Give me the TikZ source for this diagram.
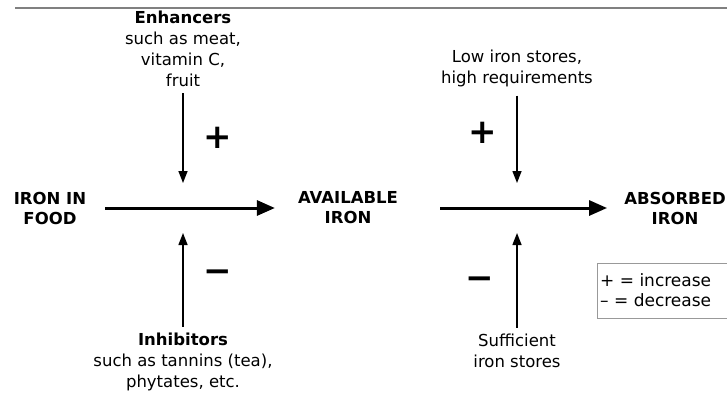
\documentclass[tikz,border=0pt]{standalone}
\usepackage{fontspec}
\setmainfont{DejaVu Sans}
\usetikzlibrary{arrows.meta}
\tikzset{
  stage/.style={align=center,font=\fontsize{16.5}{20}\selectfont\bfseries,inner sep=0pt},
  factor/.style={align=center,font=\fontsize{16.5}{21}\selectfont,inner sep=0pt},
  sign/.style={font=\fontsize{34}{34}\selectfont\bfseries,inner sep=0pt},
  mainarrow/.style={line width=3pt,-{Triangle[length=18pt,width=15pt]}},
  sidearrow/.style={line width=1.4pt,-{Triangle[length=12pt,width=9pt]}}
}
\begin{document}
\begin{tikzpicture}[x=1pt,y=-1pt]
	\useasboundingbox (0,0) rectangle (727,397);
	%top rule
	\draw[gray,line width=1.2pt] (15,8) -- (727,8);

	%stages
	\node[stage] (food) at (50,208) {IRON IN\\FOOD};
	\node[stage] (avail) at (348,208) {AVAILABLE\\IRON};
	\node[stage] (absorbed) at (675,208) {ABSORBED\\IRON};

	%main arrows
	\draw[mainarrow,shorten <=19pt,shorten >=23pt] (food.east) -- (avail.west); %food to available
	\draw[mainarrow,shorten <=42pt,shorten >=17pt] (avail.east) -- (absorbed.west); %available to absorbed

	%factors, left step
	\node[factor] (enh) at (183,49) {\textbf{Enhancers}\\such as meat,\\vitamin C,\\fruit};
	\node[factor] (inh) at (183,362) {\textbf{Inhibitors}\\such as tannins (tea),\\phytates, etc.};
	\coordinate (enhtip) at (183,183);
	\coordinate (inhtip) at (183,233);
	\draw[sidearrow] (enh.south) ++(0,6) -- (enhtip); %enhancers arrow
	\draw[sidearrow] (inh.north) ++(0,-6) -- (inhtip); %inhibitors arrow
	\node[sign] (plusA) at (218,138) {+};
	\node[sign] (minusA) at (218,276) {−};

	%factors, right step
	\node[factor] (low) at (517,68) {Low iron stores,\\high requirements};
	\node[factor] (suff) at (517,351) {Sufficient\\iron stores};
	\coordinate (lowtip) at (517,183);
	\coordinate (sufftip) at (517,233);
	\draw[sidearrow] (low.south) ++(0,9) -- (lowtip); %low stores arrow
	\draw[sidearrow] (suff.north) ++(0,-6) -- (sufftip); %sufficient stores arrow
	\node[sign] (plusB) at (483,133) {+};
	\node[sign] (minusB) at (480,283) {−};

	%legend
	\draw[gray!80,line width=0.8pt] (740,263) -- (597,263) -- (597,318) -- (740,318);
	\node[factor,anchor=west,font=\fontsize{17}{20}\selectfont] (key) at (600,290) {+ = increase\\– = decrease};
\end{tikzpicture}
\end{document}
